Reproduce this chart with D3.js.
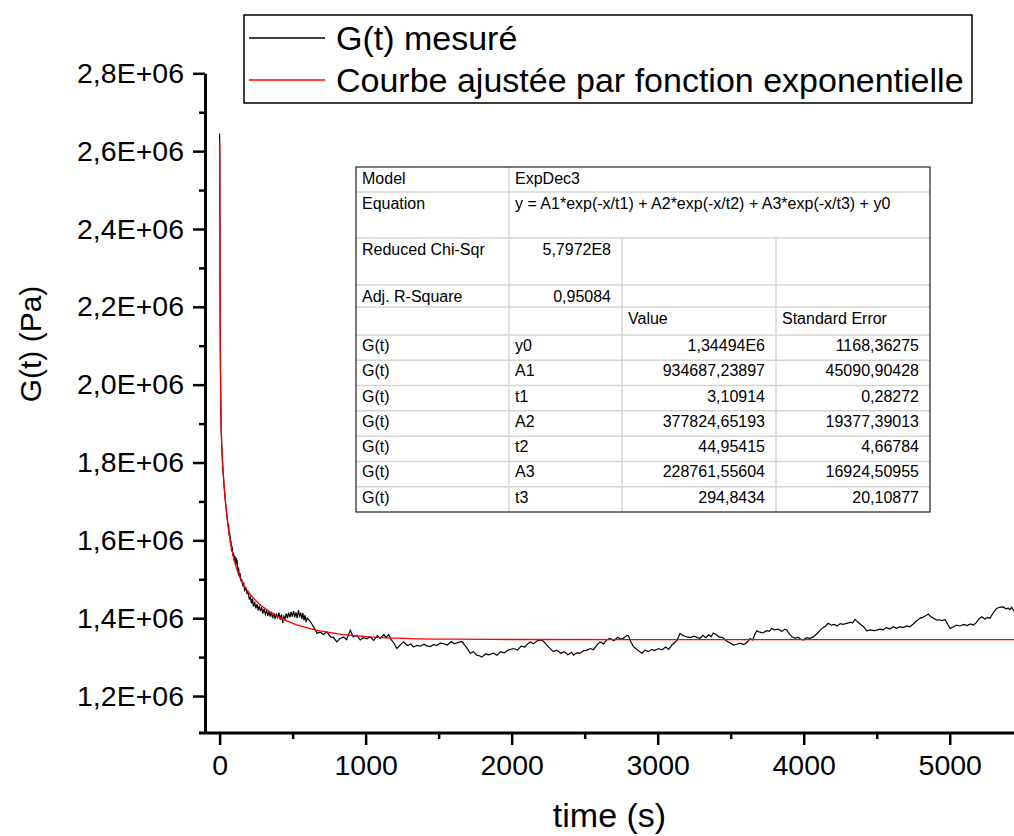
<!DOCTYPE html>
<html>
<head>
<meta charset="utf-8">
<script src="https://cdnjs.cloudflare.com/ajax/libs/d3/7.8.5/d3.min.js"></script>
<style>
  body { margin: 0; background: #fff; }
  svg { display: block; font-family: "Liberation Sans", Arial, sans-serif; }
</style>
</head>
<body>
<svg id="chart"></svg>
<script>
const measuredPoints = [
  [0, 2645000], [1, 2610000], [2, 2430000], [3, 2275000], [4, 2170000], [5, 2095000],
  [6, 2035000], [8, 1960000], [10, 1905000], [12, 1875000], [15, 1840000], [20, 1800000],
  [25, 1770000], [30, 1742000], [35, 1722000], [40, 1700000], [45, 1682000], [50, 1665000],
  [55, 1648000], [60, 1633000], [62, 1640000], [66, 1612000], [70, 1618000], [74, 1592000],
  [78, 1598000], [82, 1572000], [86, 1585000], [90, 1560000], [95, 1568000], [100, 1548000],
  [105, 1560000], [110, 1535000], [115, 1552000], [120, 1548000], [125, 1520000], [130, 1530000],
  [135, 1508000], [140, 1516000], [145, 1495000], [150, 1502000], [158, 1485000], [165, 1490000],
  [172, 1472000], [180, 1478000], [188, 1462000], [195, 1470000], [203, 1448000], [210, 1456000],
  [218, 1438000], [225, 1450000], [232, 1430000], [240, 1442000], [248, 1425000], [256, 1436000],
  [264, 1420000], [272, 1432000], [280, 1418000], [288, 1428000], [296, 1412000], [305, 1424000],
  [313, 1410000], [322, 1420000], [330, 1406000], [338, 1418000], [346, 1404000], [355, 1416000],
  [363, 1400000], [372, 1413000], [380, 1398000], [390, 1410000], [398, 1402000], [407, 1414000],
  [415, 1396000], [424, 1410000], [432, 1388000], [440, 1405000], [448, 1398000], [456, 1412000],
  [465, 1400000], [473, 1414000], [482, 1402000], [490, 1416000], [498, 1404000], [507, 1418000],
  [515, 1403000], [523, 1415000], [531, 1400000], [540, 1420000], [548, 1405000], [556, 1412000],
  [563, 1398000], [570, 1414000], [578, 1395000], [585, 1408000], [592, 1390000], [600, 1400000],
  [620, 1392000], [643, 1378000], [655, 1370000], [667, 1361000], [690, 1364000], [712, 1358000],
  [735, 1365000], [760, 1352000], [780, 1350000], [803, 1339000], [825, 1348000], [850, 1352000],
  [870, 1345000], [895, 1369000], [915, 1352000], [940, 1356000], [963, 1344000], [985, 1350000],
  [1010, 1347000], [1031, 1352000], [1055, 1343000], [1080, 1355000], [1100, 1348000], [1125, 1358000],
  [1140, 1350000], [1157, 1358000], [1175, 1345000], [1195, 1335000], [1214, 1322000], [1240, 1332000],
  [1260, 1339000], [1285, 1330000], [1310, 1334000], [1328, 1326000], [1350, 1330000], [1375, 1328000],
  [1400, 1333000], [1420, 1329000], [1442, 1327000], [1465, 1332000], [1490, 1330000], [1510, 1336000],
  [1533, 1335000], [1560, 1331000], [1585, 1340000], [1610, 1334000], [1635, 1338000], [1659, 1340000],
  [1680, 1330000], [1700, 1320000], [1716, 1310000], [1739, 1314000], [1760, 1305000], [1784, 1303000],
  [1796, 1300000], [1820, 1308000], [1845, 1306000], [1875, 1310000], [1900, 1305000], [1925, 1314000],
  [1950, 1311000], [1975, 1318000], [2012, 1322000], [2040, 1318000], [2065, 1328000], [2090, 1326000],
  [2110, 1334000], [2127, 1339000], [2150, 1334000], [2175, 1342000], [2207, 1344000], [2230, 1336000],
  [2255, 1325000], [2286, 1314000], [2310, 1318000], [2335, 1310000], [2360, 1314000], [2385, 1306000],
  [2410, 1312000], [2423, 1305000], [2445, 1311000], [2470, 1310000], [2490, 1316000], [2515, 1318000],
  [2540, 1322000], [2560, 1319000], [2583, 1331000], [2606, 1339000], [2630, 1334000], [2650, 1344000],
  [2674, 1348000], [2700, 1342000], [2725, 1351000], [2750, 1346000], [2770, 1350000], [2789, 1356000],
  [2800, 1355000], [2815, 1340000], [2834, 1327000], [2850, 1322000], [2870, 1316000], [2891, 1310000],
  [2915, 1318000], [2935, 1314000], [2960, 1320000], [2980, 1317000], [3005, 1322000], [3030, 1319000],
  [3055, 1326000], [3075, 1320000], [3097, 1331000], [3120, 1338000], [3135, 1345000], [3153, 1361000],
  [3175, 1355000], [3200, 1352000], [3225, 1350000], [3250, 1354000], [3270, 1350000], [3290, 1348000],
  [3310, 1356000], [3330, 1350000], [3350, 1358000], [3365, 1352000], [3381, 1362000], [3400, 1358000],
  [3420, 1352000], [3445, 1350000], [3470, 1342000], [3495, 1336000], [3518, 1331000], [3540, 1333000],
  [3565, 1336000], [3590, 1332000], [3612, 1338000], [3633, 1348000], [3650, 1344000], [3665, 1358000],
  [3678, 1367600], [3700, 1364000], [3720, 1362000], [3745, 1368000], [3765, 1366000], [3781, 1373600],
  [3800, 1370000], [3825, 1372000], [3850, 1366000], [3870, 1372000], [3884, 1369500], [3900, 1360000],
  [3920, 1352000], [3941, 1348000], [3960, 1351000], [3980, 1346000], [3997, 1343800], [4020, 1350000],
  [4040, 1348000], [4066, 1352000], [4090, 1360000], [4110, 1368000], [4130, 1375000], [4150, 1380000],
  [4168, 1386700], [4190, 1382000], [4210, 1384000], [4230, 1380000], [4250, 1386000], [4270, 1384000],
  [4294, 1386700], [4320, 1390000], [4335, 1388000], [4351, 1396800], [4370, 1390000], [4390, 1384000],
  [4410, 1378000], [4431, 1367600], [4455, 1370000], [4480, 1368000], [4500, 1369500], [4525, 1372000],
  [4545, 1370000], [4565, 1376000], [4590, 1372000], [4613, 1378000], [4635, 1374000], [4660, 1378000],
  [4680, 1376000], [4705, 1380000], [4727, 1378000], [4750, 1385000], [4770, 1392000], [4796, 1399600],
  [4815, 1402000], [4835, 1406000], [4853, 1410500], [4870, 1404000], [4890, 1400000], [4910, 1395000],
  [4930, 1396000], [4950, 1394000], [4967, 1396800], [4985, 1385000], [5002, 1373600], [5025, 1378000],
  [5047, 1382300], [5070, 1380000], [5095, 1384000], [5120, 1381000], [5140, 1385000], [5161, 1382300],
  [5180, 1388000], [5200, 1398000], [5218, 1403700], [5240, 1398000], [5260, 1402000], [5275, 1399600],
  [5295, 1412000], [5310, 1420000], [5321, 1425000], [5340, 1428000], [5366, 1429000], [5385, 1424000],
  [5400, 1426000], [5412, 1422000], [5425, 1428000], [5440, 1417000]
];

// Fitted ExpDec3 curve [time (s), G(t) (Pa)]
const fitPoints = [
  [1, 2620087], [2, 2424806], [3, 2280937], [5, 2095130], [8, 1955141], [12, 1873599],
  [20, 1802330], [30, 1745484], [45, 1680172], [60, 1631042], [80, 1583089], [100, 1548747],
  [130, 1513095], [160, 1488648], [200, 1465452], [250, 1444370], [300, 1428115], [400, 1403905],
  [500, 1386904], [600, 1374830], [800, 1360114], [1000, 1352639], [1300, 1347722], [1600, 1345946],
  [2000, 1345199], [3000, 1344951], [4000, 1344941], [5440, 1344940]
];

// Axis ticks
const xMajorTicks = [0, 1000, 2000, 3000, 4000, 5000];
const xMinorTicks = [500, 1500, 2500, 3500, 4500];
const yMajorTicks = [1200000, 1400000, 1600000, 1800000, 2000000, 2200000, 2400000, 2600000, 2800000];
const yTickLabels = ["1,2E+06", "1,4E+06", "1,6E+06", "1,8E+06", "2,0E+06", "2,2E+06", "2,4E+06", "2,6E+06", "2,8E+06"];
const yMinorTicks = [1300000, 1500000, 1700000, 1900000, 2100000, 2300000, 2500000, 2700000];

// Legend
const legendLabels = ["G(t) mesuré", "Courbe ajustée par fonction exponentielle"];
const legendColors = ["#000000", "#ff0000"];

// Fit report table
const modelRows = [["Model", "ExpDec3"], ["Equation", "y = A1*exp(-x/t1) + A2*exp(-x/t2) + A3*exp(-x/t3) + y0"]];
const statRows = [["Reduced Chi-Sqr", "5,7972E8"], ["Adj. R-Square", "0,95084"]];
const paramHeader = ["", "", "Value", "Standard Error"];
const paramNames = ["y0", "A1", "t1", "A2", "t2", "A3", "t3"];
const paramValues = ["1,34494E6", "934687,23897", "3,10914", "377824,65193", "44,95415", "228761,55604", "294,8434"];
const paramErrors = ["1168,36275", "45090,90428", "0,28272", "19377,39013", "4,66784", "16924,50955", "20,10877"];

const width = 1014, height = 836;
const plot = { left: 205, right: 1014, top: 73.3, bottom: 733 };

const svg = d3.select("#chart")
  .attr("width", width)
  .attr("height", height);

const x = d3.scaleLinear().domain([-100, 5440]).range([plot.left, plot.right]);
const y = d3.scaleLinear().domain([1105000, 2800000]).range([plot.bottom, plot.top]);

svg.append("clipPath").attr("id", "plotClip")
  .append("rect")
  .attr("x", plot.left).attr("y", plot.top - 10)
  .attr("width", plot.right - plot.left).attr("height", plot.bottom - plot.top + 10);

// Curves
const line = d3.line().x(d => x(d[0])).y(d => y(d[1]));
const fitLine = d3.line().x(d => x(d[0])).y(d => y(d[1])).curve(d3.curveMonotoneX);

const curves = svg.append("g").attr("clip-path", "url(#plotClip)");
curves.append("path")
  .datum(measuredPoints)
  .attr("d", line)
  .attr("fill", "none")
  .attr("stroke", legendColors[0])
  .attr("stroke-width", 1.2);
curves.append("path")
  .datum(fitPoints)
  .attr("d", fitLine)
  .attr("fill", "none")
  .attr("stroke", legendColors[1])
  .attr("stroke-width", 1.3);

// Axes
const tickFont = 28.5;
const xAxis = svg.append("g")
  .attr("transform", `translate(0,${plot.bottom})`)
  .call(d3.axisBottom(x).tickValues(xMajorTicks).tickSize(12).tickSizeOuter(0).tickPadding(10)
    .tickFormat(d3.format("d")));
xAxis.append("g")
  .call(d3.axisBottom(x).tickValues(xMinorTicks).tickSize(6).tickFormat(""))
  .select(".domain").remove();
xAxis.select(".domain").attr("d", `M${plot.left - 6},0H${plot.right}`);

const yAxis = svg.append("g")
  .attr("transform", `translate(${plot.left},0)`)
  .call(d3.axisLeft(y).tickValues(yMajorTicks).tickSize(12).tickSizeOuter(0).tickPadding(9)
    .tickFormat((d, i) => yTickLabels[i]));
yAxis.append("g")
  .call(d3.axisLeft(y).tickValues(yMinorTicks).tickSize(6).tickFormat(""))
  .select(".domain").remove();

svg.selectAll(".domain").attr("stroke", "#000").attr("stroke-width", 3);
svg.selectAll(".tick line").attr("stroke", "#000").attr("stroke-width", 2.5);
svg.selectAll(".tick text")
  .attr("fill", "#000")
  .style("font-size", tickFont + "px")
  .style("font-family", "'Liberation Sans', Arial, sans-serif");

// Axis titles
svg.append("text")
  .attr("x", (plot.left + plot.right) / 2)
  .attr("y", 827)
  .attr("text-anchor", "middle")
  .style("font-size", "34px")
  .text("time (s)");

svg.append("text")
  .attr("transform", "translate(41,344) rotate(-90)")
  .attr("text-anchor", "middle")
  .style("font-size", "30px")
  .text("G(t) (Pa)");

// Legend
const legend = svg.append("g");
legend.append("rect")
  .attr("x", 244).attr("y", 15)
  .attr("width", 728).attr("height", 88)
  .attr("fill", "#fff")
  .attr("stroke", "#000")
  .attr("stroke-width", 1.5);
legendLabels.forEach((label, i) => {
  const cy = 38 + i * 42;
  legend.append("line")
    .attr("x1", 249).attr("x2", 325)
    .attr("y1", cy).attr("y2", cy)
    .attr("stroke", legendColors[i])
    .attr("stroke-width", 1.3);
  legend.append("text")
    .attr("x", 336).attr("y", cy + 12)
    .style("font-size", "34px")
    .text(label);
});

// Fit table
const table = svg.append("g").style("font-size", "16px");
const cols = [356, 509, 622, 776, 930];
const gridColor = "#d4d4d4";
const pad = 6;

function hLine(yPos, x1, x2) {
  table.append("line").attr("x1", x1).attr("x2", x2).attr("y1", yPos).attr("y2", yPos)
    .attr("stroke", gridColor).attr("stroke-width", 1.5);
}
function vLine(xPos, y1, y2) {
  table.append("line").attr("x1", xPos).attr("x2", xPos).attr("y1", y1).attr("y2", y2)
    .attr("stroke", gridColor).attr("stroke-width", 1.5);
}
function cell(text, col, top, align) {
  table.append("text")
    .attr("x", align === "end" ? cols[col + 1] - 11 : cols[col] + pad)
    .attr("y", top + 17)
    .attr("text-anchor", align === "end" ? "end" : "start")
    .text(text);
}

table.append("rect")
  .attr("x", cols[0]).attr("y", 167)
  .attr("width", cols[4] - cols[0]).attr("height", 512 - 167)
  .attr("fill", "#fff");

const modelTops = [167, 192];
modelRows.forEach((r, i) => {
  cell(r[0], 0, modelTops[i]);
  cell(r[1], 1, modelTops[i]);
});
const statTops = [238, 285];
statRows.forEach((r, i) => {
  cell(r[0], 0, statTops[i]);
  cell(r[1], 1, statTops[i], "end");
});
cell(paramHeader[2], 2, 307);
cell(paramHeader[3], 3, 307);

const rowH = (512 - 335) / paramNames.length;
paramNames.forEach((p, i) => {
  const top = 335 + i * rowH;
  table.append("text").attr("x", cols[0] + pad).attr("y", top + 16).text("G(t)");
  table.append("text").attr("x", cols[1] + pad).attr("y", top + 16).text(p);
  table.append("text").attr("x", cols[3] - 11).attr("y", top + 16).attr("text-anchor", "end").text(paramValues[i]);
  table.append("text").attr("x", cols[4] - 11).attr("y", top + 16).attr("text-anchor", "end").text(paramErrors[i]);
});

// grid lines
[192, 238, 285, 307, 335].forEach(v => hLine(v, cols[0], cols[4]));
d3.range(1, paramNames.length).forEach(i => hLine(335 + i * rowH, cols[0], cols[4]));
vLine(cols[1], 167, 512);
vLine(cols[2], 238, 512);
vLine(cols[3], 238, 512);

table.append("rect")
  .attr("x", cols[0]).attr("y", 167)
  .attr("width", cols[4] - cols[0]).attr("height", 512 - 167)
  .attr("fill", "none")
  .attr("stroke", "#222")
  .attr("stroke-width", 1.2);
</script>
</body>
</html>
